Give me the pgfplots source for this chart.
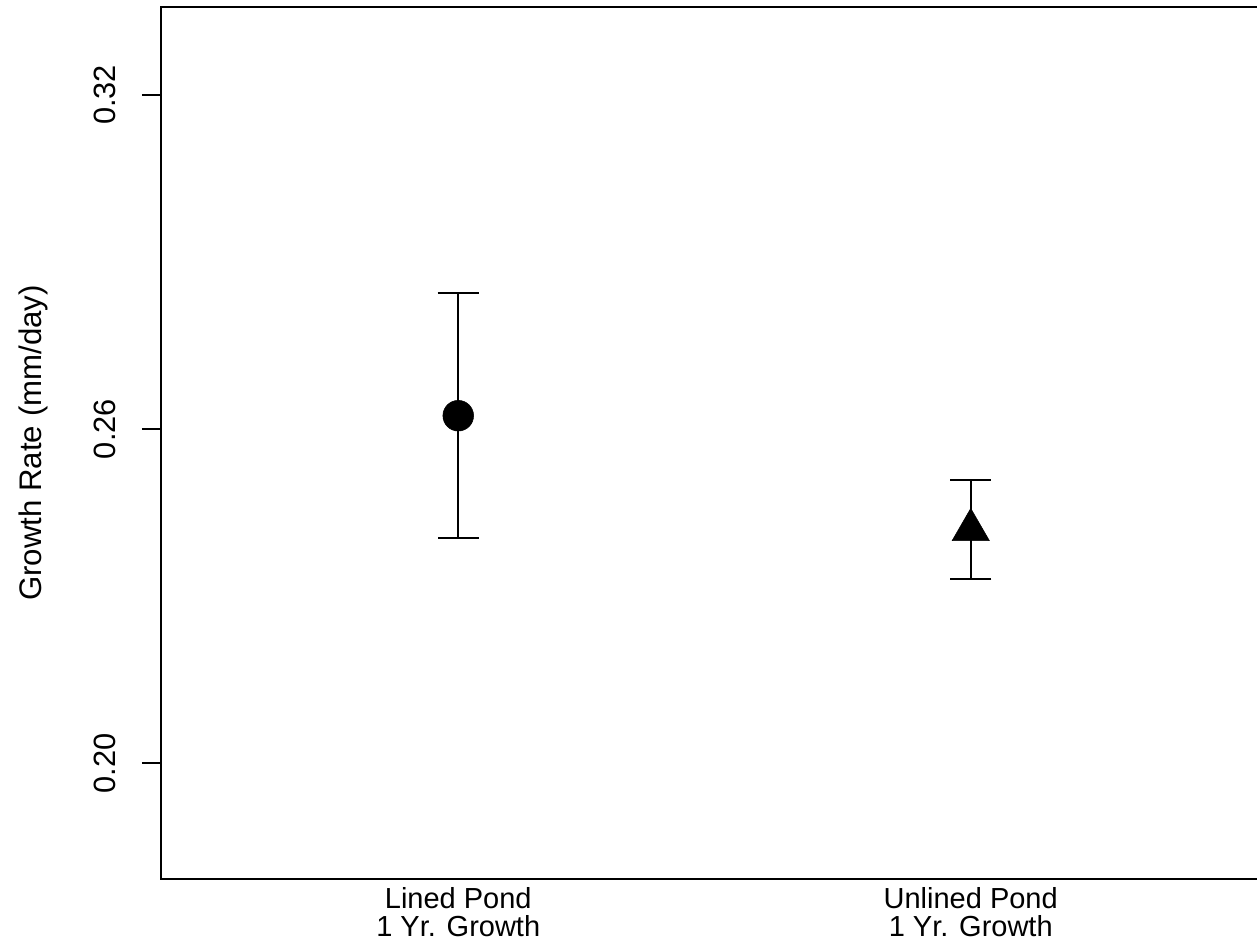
\documentclass[border=0pt]{standalone}
\usepackage{pgfplots}
\pgfplotsset{compat=1.18}
\usepackage{fontspec}
\setmainfont{Liberation Sans}
\begin{document}
\begin{tikzpicture}
\begin{axis}[
  at={(0pt,0pt)}, anchor=south west,
  scale only axis, width=830.25pt, height=654pt,
  xmin=0.42, xmax=2.58, ymin=0.1792, ymax=0.3358,
  axis line style={line width=1.5pt},
  xtick={1,2},
  xticklabels={{Lined Pond\\1 Yr. Growth},{Unlined Pond\\1 Yr. Growth}},
  xticklabel style={yshift=8.25pt, align=center, font=\fontsize{21.75}{21.3}\selectfont, anchor=north, inner sep=0pt},
  xtick style={draw=none},
  ytick={0.20,0.26,0.32},
  yticklabels={0.20,0.26,0.32},
  yticklabel style={xshift=-19.5pt, rotate=90, anchor=south, inner sep=0pt, font=\fontsize{23.1}{28}\selectfont},
  xtick pos=bottom, ytick pos=left,
  tick align=outside, major tick length=14.25pt,
  ytick style={line width=1.5pt, black},
  ylabel={Growth Rate (mm/day)},
  every axis y label/.style={at={(axis description cs:-0.1075,0.5)}, rotate=90, anchor=base, font=\fontsize{23.4}{28}\selectfont},
]
\addplot[only marks, mark=*, mark size=11.5pt, black,
  error bars/.cd, y dir=both, y explicit, error mark=|,
  error bar style={line width=1.5pt, black},
  error mark options={mark size=15.4pt, line width=1.5pt, black}]
  coordinates {(1,0.2624) +- (0,0.0220)};
\addplot[only marks, mark=triangle*, mark size=16.1pt, black,
  error bars/.cd, y dir=both, y explicit, error mark=|,
  error bar style={line width=1.5pt, black},
  error mark options={mark size=15.4pt, line width=1.5pt, black}]
  coordinates {(2,0.2419) +- (0,0.0089)};
\end{axis}
\pgfresetboundingbox
\useasboundingbox (-120.75pt,-48pt) rectangle (822pt,659.25pt);
\end{tikzpicture}
\end{document}
